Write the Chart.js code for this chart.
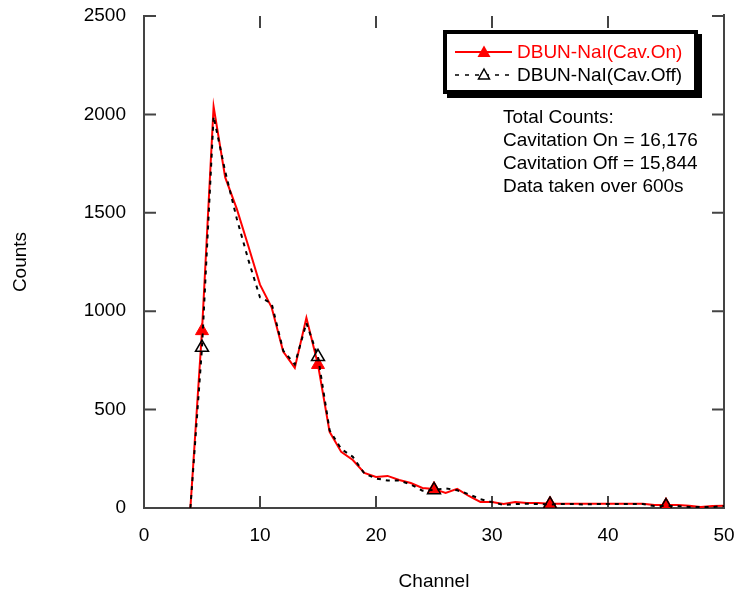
<!DOCTYPE html>
<html>
<head>
<meta charset="utf-8">
<script src="https://cdn.jsdelivr.net/npm/chart.js@4.4.0/dist/chart.umd.min.js"></script>
<style>
  html, body { margin: 0; padding: 0; background: #fff; }
  #wrap { position: relative; width: 737px; height: 593px; }
  canvas { position: absolute; left: 0; top: 0; }
  .txt { font-family: "Liberation Sans", Arial, sans-serif; font-size: 19px; line-height: 23px; position: absolute; white-space: nowrap; }
  #legend { position: absolute; left: 443px; top: 30px; width: 247px; height: 56px; border: 4px solid #000; box-shadow: 4px 4px 0 #000; background: #fff; }
</style>
</head>
<body>
<div id="wrap">
  <canvas id="c" width="737" height="593"></canvas>
  <div id="legend"></div>
  <svg style="position:absolute;left:0;top:0" width="737" height="593">
    <line x1="455" y1="52" x2="512" y2="52" stroke="#ff0000" stroke-width="2"/>
    <polygon points="484,45.5 490.5,57 477.5,57" fill="#ff0000"/>
    <line x1="455" y1="75" x2="512" y2="75" stroke="#000" stroke-width="1.5" stroke-dasharray="4,6"/>
    <polygon points="484,69 489.5,79 478.5,79" fill="#fff" stroke="#000" stroke-width="1.5"/>
  </svg>
  <div class="txt" style="left:517px;top:40px;color:#ff0000">DBUN-NaI(Cav.On)</div>
  <div class="txt" style="left:517px;top:63px;color:#000">DBUN-NaI(Cav.Off)</div>
  <div class="txt" style="left:503px;top:105px;color:#000">Total Counts:<br>Cavitation On = 16,176<br>Cavitation Off = 15,844<br>Data taken over 600s</div>
</div>
<script>
const channels = [4,5,6,7,8,9,10,11,12,13,14,15,16,17,18,19,20,21,22,23,24,25,26,27,28,29,30,31,32,33,34,35,36,37,38,39,40,41,42,43,44,45,46,47,48,49,50];
const cavOn  = [0,900,2040,1680,1520,1330,1135,1020,795,712,967,728,387,285,244,178,158,163,142,127,102,97,76,97,61,31,31,20,31,25,25,22,22,22,22,22,22,22,22,22,15,15,15,12,5,10,12];
const cavOff = [0,815,1990,1710,1470,1260,1070,1040,800,730,940,768,395,300,260,175,150,140,140,120,88,92,100,90,70,45,30,15,20,22,20,18,20,20,18,20,20,20,20,20,10,10,10,5,5,5,10];
const markerChannels = [5,15,25,35,45];
const xTicks = [0,10,20,30,40,50];
const yTicks = [0,500,1000,1500,2000,2500];

const FONT = "'Liberation Sans', Arial, sans-serif";
const AXIS = '#444';

function pts(vals){ return channels.map((c,i)=>({x:c,y:vals[i]})); }
function radii(r){ return channels.map(c => markerChannels.includes(c) ? r : 0); }

const framePlugin = {
  id: 'frame',
  beforeDatasetsDraw(chart){
    const {ctx, chartArea:a, scales:{x,y}} = chart;
    ctx.save();
    ctx.strokeStyle = AXIS;
    ctx.lineWidth = 2;
    ctx.beginPath();
    ctx.moveTo(a.right, a.top - 2); ctx.lineTo(a.right, a.bottom);
    const tl = 12;
    xTicks.forEach(v=>{
      const px = x.getPixelForValue(v);
      ctx.moveTo(px, a.bottom); ctx.lineTo(px, a.bottom - tl);
      ctx.moveTo(px, a.top); ctx.lineTo(px, a.top + tl);
    });
    yTicks.forEach(v=>{
      const py = y.getPixelForValue(v);
      ctx.moveTo(a.left, py); ctx.lineTo(a.left + tl, py);
      ctx.moveTo(a.right, py); ctx.lineTo(a.right - tl, py);
    });
    ctx.stroke();
    ctx.restore();
  }
};

new Chart(document.getElementById('c'), {
  type: 'line',
  data: {
    datasets: [
      {
        label: 'DBUN-NaI(Cav.On)',
        data: pts(cavOn),
        borderColor: '#ff0000',
        borderWidth: 2,
        pointStyle: 'triangle',
        pointRadius: radii(7.5),
        pointHoverRadius: 0,
        pointBackgroundColor: '#ff0000',
        pointBorderColor: '#ff0000',
        pointBorderWidth: 1,
        tension: 0,
        order: 2
      },
      {
        label: 'DBUN-NaI(Cav.Off)',
        data: pts(cavOff),
        borderColor: '#000',
        borderWidth: 2,
        borderDash: [4,5],
        pointStyle: 'triangle',
        pointRadius: radii(7.5),
        pointHoverRadius: 0,
        pointBackgroundColor: 'rgba(0,0,0,0)',
        pointBorderColor: '#000',
        pointBorderWidth: 1.5,
        tension: 0,
        order: 1
      }
    ]
  },
  options: {
    responsive: false,
    animation: false,
    devicePixelRatio: 1,
    layout: { padding: { top: 16, right: 13, left: 0, bottom: 0 } },
    plugins: { legend: { display: false }, tooltip: { enabled: false } },
    scales: {
      x: {
        type: 'linear',
        min: 0, max: 50,
        afterFit(s){ s.height = 85; s.paddingLeft = 0; s.paddingRight = 0; },
        afterBuildTicks(s){ s.ticks = xTicks.map(v=>({value:v})); },
        grid: { display: false, drawTicks: false },
        border: { display: true, color: AXIS, width: 2 },
        ticks: { color: '#000', font: { family: FONT, size: 19 }, padding: 16, maxRotation: 0, callback: v => String(v) },
        title: { display: true, text: 'Channel', color: '#000', font: { family: FONT, size: 19 }, padding: { top: 0, bottom: 0 } }
      },
      y: {
        min: 0, max: 2500,
        afterFit(s){ s.width = 144; s.paddingTop = 0; s.paddingBottom = 0; },
        afterBuildTicks(s){ s.ticks = yTicks.map(v=>({value:v})); },
        grid: { display: false, drawTicks: false },
        border: { display: true, color: AXIS, width: 2 },
        ticks: { color: '#000', font: { family: FONT, size: 19 }, padding: 18, callback: v => String(v) },
        title: { display: true, text: 'Counts', color: '#000', font: { family: FONT, size: 19 }, padding: { top: 9, bottom: 0 } }
      }
    }
  },
  plugins: [framePlugin]
});
</script>
</body>
</html>
